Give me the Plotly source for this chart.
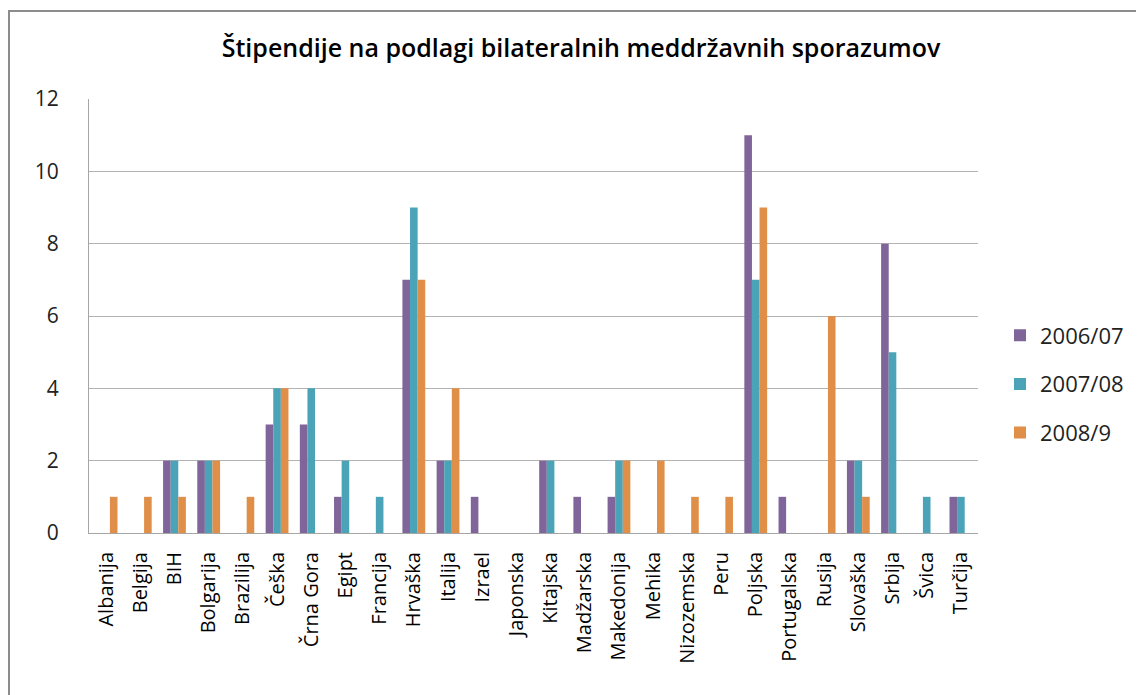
import plotly.graph_objects as go

categories = ["Albanija", "Belgija", "BIH", "Bolgarija", "Brazilija", "Češka", "Črna Gora",
              "Egipt", "Francija", "Hrvaška", "Italija", "Izrael", "Japonska", "Kitajska",
              "Madžarska", "Makedonija", "Mehika", "Nizozemska", "Peru", "Poljska",
              "Portugalska", "Rusija", "Slovaška", "Srbija", "Švica", "Turčija"]
v2006_07 = [0, 0, 2, 2, 0, 3, 3, 1, 0, 7, 2, 1, 0, 2, 1, 1, 0, 0, 0, 11, 1, 0, 2, 8, 0, 1]
v2007_08 = [0, 0, 2, 2, 0, 4, 4, 2, 1, 9, 2, 0, 0, 2, 0, 2, 0, 0, 0, 7, 0, 0, 2, 5, 1, 1]
v2008_9 = [1, 1, 1, 2, 1, 4, 0, 0, 0, 7, 4, 0, 0, 0, 0, 2, 2, 1, 1, 9, 0, 6, 1, 0, 0, 0]
series_names = ["2006/07", "2007/08", "2008/9"]
colors = ["#7F6599", "#4BA3B8", "#E08F48"]
y_ticks = [0, 2, 4, 6, 8, 10, 12]

FONT = "Open Sans"

fig = go.Figure()
for name, vals, col in zip(series_names, [v2006_07, v2007_08, v2008_9], colors):
    fig.add_trace(go.Bar(x=categories, y=vals, name=name, legendgroup=name,
                         marker=dict(color=col, line=dict(width=0))))

# page body has an 8px margin; figure coordinates are offset by it
OFF = 8
W, H = 1136, 687
L, T = 89 - OFF, 99 - OFF
R, B = W - (978 - OFF), H - (533 - OFF)
pw, ph = W - L - R, H - T - B

def px_x(p):
    return (p - OFF - L) / pw

def px_y(p):
    return (H - B - (p - OFF)) / ph

fig.update_layout(
    width=W, height=H,
    margin=dict(l=L, r=R, t=T, b=B, autoexpand=False),
    paper_bgcolor="white", plot_bgcolor="white",
    barmode="group", bargap=0.333, bargroupgap=0,
    font=dict(family=FONT, color="#222222"),
    title=dict(text="Štipendije na podlagi bilateralnih meddržavnih sporazumov",
               xref="container", x=(581 - OFF) / W, xanchor="center",
               yref="container", y=1 - (48 - OFF) / H, yanchor="middle",
               font=dict(family=FONT, size=25, color="#000000", weight=600)),
    legend=dict(x=px_x(1000), y=px_y(384), xanchor="left", yanchor="middle",
                font=dict(family=FONT, size=22, color="#222222"),
                traceorder="grouped", tracegroupgap=17,
                itemwidth=30, bgcolor="rgba(0,0,0,0)"),
    xaxis=dict(showline=True, linecolor="#A6A6A6", linewidth=1,
               tickangle=-90, ticks="", tickfont=dict(family=FONT, size=20, color="#000000"),
               ticklabelstandoff=10, showgrid=False, fixedrange=True),
    yaxis=dict(range=[0, 12], tickvals=y_ticks, showgrid=True, gridcolor="#B3B3B3",
               gridwidth=1, showline=True, linecolor="#A6A6A6", linewidth=1,
               ticks="", tickfont=dict(family=FONT, size=21, color="#222222"),
               ticklabelstandoff=25, zeroline=False, fixedrange=True),
    shapes=[dict(type="rect", xref="paper", yref="paper",
                 x0=px_x(9), x1=px_x(1160), y0=px_y(720), y1=px_y(11),
                 line=dict(color="#8C8C8C", width=2), fillcolor="rgba(0,0,0,0)", layer="below")],
)

fig.write_html("out.html")
